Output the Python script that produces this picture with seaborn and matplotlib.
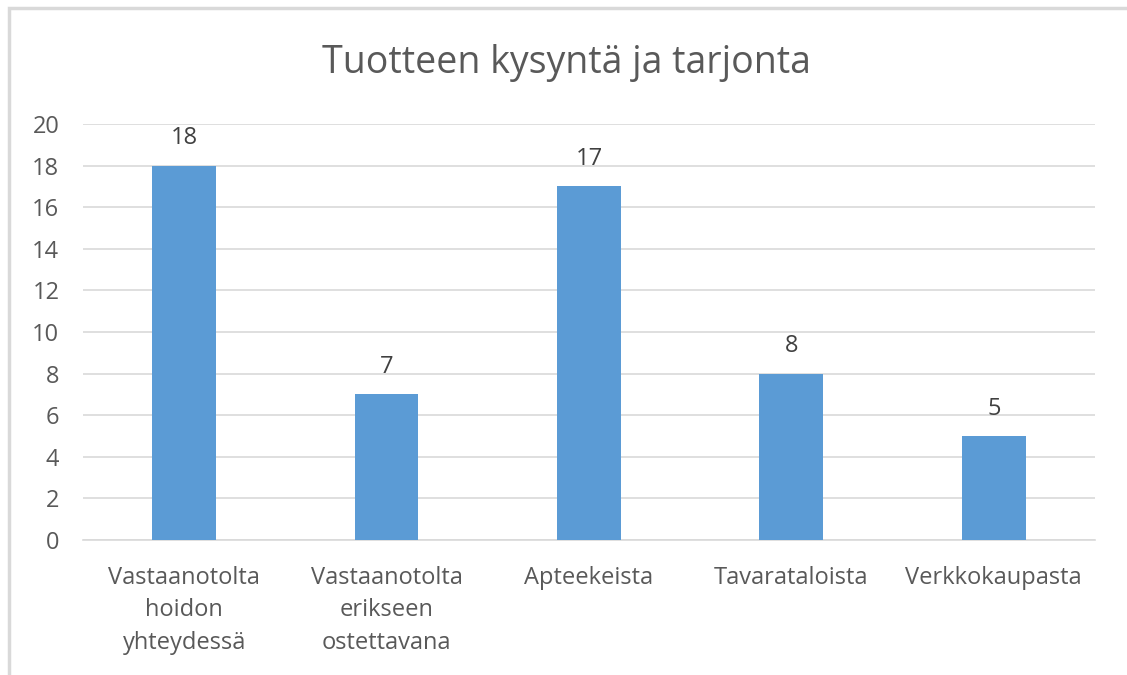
import matplotlib
matplotlib.use('Agg')
import matplotlib.pyplot as plt
import seaborn as sns
import pandas as pd

# data
categories = ['Vastaanotolta\nhoidon\nyhteydessä',
              'Vastaanotolta\nerikseen\nostettavana',
              'Apteekeista',
              'Tavarataloista',
              'Verkkokaupasta']
values = [18, 7, 17, 8, 5]

df = pd.DataFrame({'kanava': categories, 'maara': values})

sns.set_style('white')
plt.rcParams['font.family'] = ['Open Sans', 'DejaVu Sans']

fig = plt.figure(figsize=(11.27, 6.75), dpi=100)
ax = fig.add_axes([0.0736, 0.2, 0.898, 0.6163])

sns.barplot(data=df, x='kanava', y='maara', color='#5B9BD5', width=0.315,
            saturation=1, linewidth=0, ax=ax, zorder=3)

ax.set_ylim(0, 20)
ax.set_yticks(range(0, 21, 2))
ax.yaxis.grid(True, color='#D9D9D9', linewidth=1.2, zorder=0)
ax.set_xlim(-0.5, len(categories) - 0.5)
ax.set_xlabel('')
ax.set_ylabel('')
for s in ['top', 'right', 'left']:
    ax.spines[s].set_visible(False)
ax.spines['bottom'].set_color('#D9D9D9')
ax.spines['bottom'].set_linewidth(1.2)
ax.tick_params(axis='both', length=0, labelsize=17, colors='#595959')
ax.tick_params(axis='y', pad=17)
ax.tick_params(axis='x', pad=19)
for lbl in ax.get_xticklabels():
    lbl.set_linespacing(1.45)

for c in ax.containers:
    ax.bar_label(c, fmt='%d', padding=11, fontsize=17, color='#404040')

fig.text(0.503, 0.906, 'Tuotteen kysyntä ja tarjonta', ha='center', va='center',
         fontsize=27, color='#595959')

# chart frame like the spreadsheet export
frame = plt.Rectangle((0.008, -0.1), 1.2, 1.088, transform=fig.transFigure,
                      fill=False, edgecolor='#D9D9D9', linewidth=2.5)
fig.patches.append(frame)

fig.savefig('out.png', dpi=100)
